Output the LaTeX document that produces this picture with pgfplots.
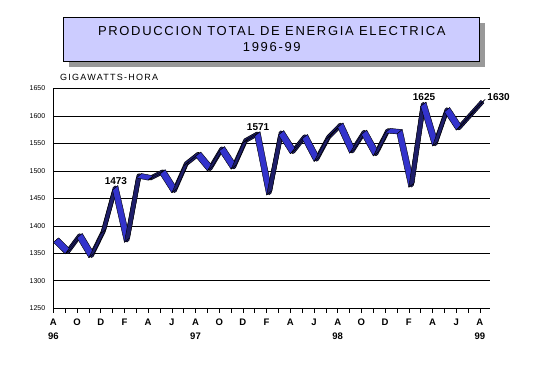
\documentclass[border=0pt]{standalone}
\usepackage{fontspec}
\setmainfont{Liberation Sans}
\newfontfamily\titlefont[LetterSpace=13]{Liberation Sans}
\newfontfamily\unitfont[LetterSpace=14]{Liberation Sans}
\usepackage{pgfplots}
\usepackage{pgfplotstable}
\usepgfplotslibrary{patchplots}
\pgfplotsset{compat=1.18}
\definecolor{ribdark}{RGB}{30,30,105}
\definecolor{riblight}{RGB}{51,51,204}
\definecolor{titlebg}{RGB}{204,204,255}
\definecolor{shadowgray}{RGB}{153,153,153}
\pgfplotstableread{
x v d
0 1378 0
1 1357 0
2 1386 0
3 1350 0
4 1394 0
5 1473 0
6 1378 0
7 1495 0
8 1491 0
9 1502 0
10 1468 0
11 1517 0
12 1534 0
13 1508 0
14 1544 0
15 1511 0
16 1559 0
17 1571 0
18 1464 0
19 1573 0
20 1539 0
21 1566 0
22 1525 0
23 1565 0
24 1587 0
25 1540 0
26 1574 0
27 1535 0
28 1577 0
29 1575 0
30 1478 0
31 1625 0
32 1553 0
33 1615 0
34 1582 0
35 1606 0
36 1630 0
0 1378 1
1 1357 1
2 1386 1
3 1350 1
4 1394 1
5 1473 1
6 1378 1
7 1495 1
8 1491 1
9 1502 1
10 1468 1
11 1517 1
12 1534 1
13 1508 1
14 1544 1
15 1511 1
16 1559 1
17 1571 1
18 1464 1
19 1573 1
20 1539 1
21 1566 1
22 1525 1
23 1565 1
24 1587 1
25 1540 1
26 1574 1
27 1535 1
28 1577 1
29 1575 1
30 1478 1
31 1625 1
32 1553 1
33 1615 1
34 1582 1
35 1606 1
36 1630 1
}\verttab
\begin{document}
\begin{tikzpicture}[x=1pt,y=1pt]
\path[use as bounding box] (0,0) rectangle (539,391);
\fill[shadowgray] (69.3,324) rectangle (485.3,367.7);
\filldraw[fill=titlebg, draw=black, line width=0.8pt] (63.3,330) rectangle (479.3,373.7);
\node[font=\titlefont\fontsize{13}{16}\selectfont, align=center] at (271.8,351.8) {PRODUCCION TOTAL DE ENERGIA ELECTRICA\\1996-99};
\node[anchor=west, font=\unitfont\fontsize{9}{10}\selectfont, inner sep=0pt] at (60,314) {GIGAWATTS-HORA};
\begin{axis}[
  at={(53.3pt,82.7pt)}, anchor=south west,
  width=436.7pt, height=220pt, scale only axis,
  xmin=0, xmax=36.85, ymin=1250, ymax=1650,
  axis x line*=bottom, axis y line*=left,
  ytick={1250,1300,...,1650},
  ymajorgrids, grid style={black, line width=0.6pt},
  xtick={0,...,36},
  xticklabels={{A\\96},{},O,{},D,{},F,{},A,{},J,{},{A\\97},{},O,{},D,{},F,{},A,{},J,{},{A\\98},{},O,{},D,{},F,{},A,{},J,{},{A\\99}},
  x tick label style={font=\bfseries\fontsize{9.5}{14}\selectfont, align=center, anchor=north, inner sep=1pt, yshift=-5pt},
  y tick label style={font=\fontsize{7}{8}\selectfont},
  /pgf/number format/assume math mode=true,
  /pgf/number format/1000 sep={},
  tick align=outside,
  major tick length=4.5pt,
  y tick style={draw=none},
  x tick style={black, line width=0.6pt},
  axis line style={black, line width=0.6pt},
  clip=false,
  colormap={rib}{color=(ribdark) color=(riblight)},
  point meta min=0, point meta max=1,
]
\addplot[draw=black, line width=4.6pt, line join=round, line cap=butt, forget plot]
  table[x expr=\thisrow{x}+0.22, y expr=\thisrow{v}-4, restrict expr to domain={\thisrow{d}}{0:0}] {\verttab};
\addplot[draw=ribdark, line width=3.4pt, line join=round, line cap=butt, forget plot]
  table[x expr=\thisrow{x}+0.22, y expr=\thisrow{v}-4, restrict expr to domain={\thisrow{d}}{0:0}] {\verttab};
\addplot[patch, patch type=rectangle, shader=flat, draw=black, line width=0.4pt,
  table/row sep=\\,
  patch table with point meta={%
0 1 38 37 1\\
1 2 39 38 0\\
2 3 40 39 1\\
3 4 41 40 0\\
4 5 42 41 0\\
5 6 43 42 1\\
6 7 44 43 0\\
7 8 45 44 1\\
8 9 46 45 0\\
9 10 47 46 1\\
10 11 48 47 0\\
11 12 49 48 0\\
12 13 50 49 1\\
13 14 51 50 0\\
14 15 52 51 1\\
15 16 53 52 0\\
16 17 54 53 0\\
17 18 55 54 1\\
18 19 56 55 0\\
19 20 57 56 1\\
20 21 58 57 0\\
21 22 59 58 1\\
22 23 60 59 0\\
23 24 61 60 0\\
24 25 62 61 1\\
25 26 63 62 0\\
26 27 64 63 1\\
27 28 65 64 0\\
28 29 66 65 1\\
29 30 67 66 1\\
30 31 68 67 0\\
31 32 69 68 1\\
32 33 70 69 0\\
33 34 71 70 1\\
34 35 72 71 0\\
35 36 73 72 0\\
  }]
  table[x expr=\thisrow{x}+0.45*\thisrow{d}, y expr=\thisrow{v}-8+8*\thisrow{d}] {\verttab};
\addplot[draw=none, mark=none, nodes near coords, point meta=explicit symbolic,
  nodes near coords style={anchor=south, font=\bfseries\fontsize{10}{12}\selectfont, inner sep=1pt, xshift=-2pt}]
  coordinates {(5.45,1473) [1473] (17.45,1571) [1571] (31.45,1625) [1625]};
\addplot[draw=none, mark=none, nodes near coords, point meta=explicit symbolic,
  nodes near coords style={anchor=west, font=\bfseries\fontsize{10}{12}\selectfont, inner sep=1pt, xshift=1pt, yshift=2.5pt}]
  coordinates {(36.45,1630) [1630]};
\end{axis}
\end{tikzpicture}
\end{document}
